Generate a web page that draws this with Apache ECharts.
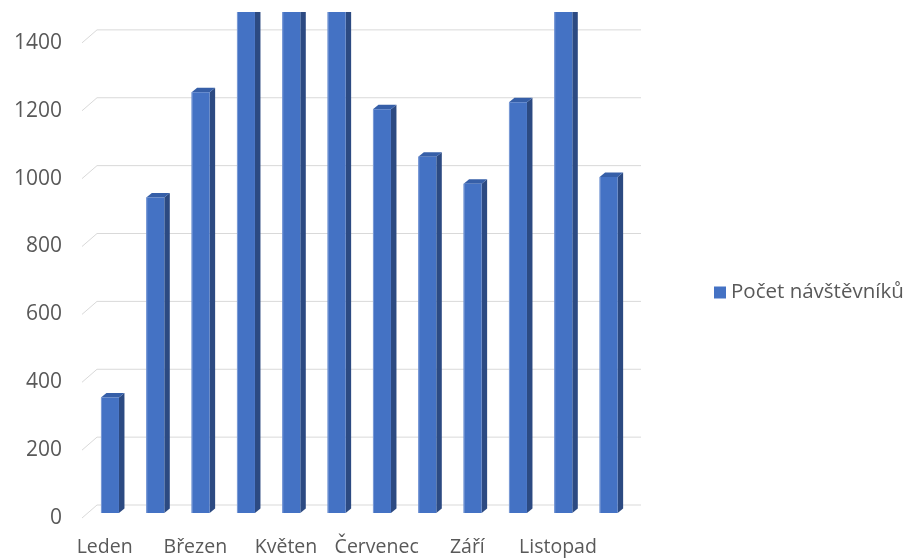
<!DOCTYPE html>
<html>
<head>
<meta charset="utf-8">
<script src="https://cdn.jsdelivr.net/npm/echarts@6/dist/echarts.min.js"></script>
<style>
  html, body { margin: 0; padding: 0; background: #ffffff; }
  #chart { width: 909px; height: 558px; }
</style>
</head>
<body>
<div id="chart"></div>
<script>
// Monthly visitor counts
const months = ['Leden', 'Únor', 'Březen', 'Duben', 'Květen', 'Červen',
                'Červenec', 'Srpen', 'Září', 'Říjen', 'Listopad', 'Prosinec'];
const visitors = [340, 930, 1240, 1620, 1680, 1590, 1190, 1050, 970, 1210, 1560, 990];
const yTicks = [0, 200, 400, 600, 800, 1000, 1200, 1400];
const seriesName = 'Počet návštěvníků';

const FONT = '"Open Sans", "Noto Sans", sans-serif';
const TEXT = '#595959';

// 3D depth of the floor (front edge -> back wall) and of a single column
const FLOOR_DX = 15, FLOOR_DY = -13;
const BAR_SHIFT_X = 5.3, BAR_SHIFT_Y = -5;
const BAR_W = 18, BAR_DX = 5.5, BAR_DY = -4.5;

const chart = echarts.init(document.getElementById('chart'), null, { renderer: 'canvas' });

// Gridline: short slanted floor segment plus the horizontal line on the back wall
function renderGridLine(params, api) {
  const cs = params.coordSys;
  const y = api.coord([0, api.value(1)])[1];
  return {
    type: 'polyline',
    silent: true,
    shape: {
      points: [
        [cs.x, y],
        [cs.x + FLOOR_DX, y + FLOOR_DY],
        [cs.x + cs.width + FLOOR_DX, y + FLOOR_DY]
      ]
    },
    style: { stroke: '#d9d9d9', lineWidth: 1, fill: null }
  };
}

// Column with front face, dark side face and top face
function renderColumn(params, api) {
  const i = api.value(0);
  const v = api.value(1);
  const base = api.coord([i, 0]);
  const top = api.coord([i, v]);
  const xl = base[0] + BAR_SHIFT_X - BAR_W / 2;
  const xr = xl + BAR_W;
  const yb = base[1] + BAR_SHIFT_Y;
  const yt = top[1] + BAR_SHIFT_Y;
  return {
    type: 'group',
    children: [
      {
        type: 'polygon',
        shape: { points: [[xr, yb], [xr + BAR_DX, yb + BAR_DY], [xr + BAR_DX, yt + BAR_DY], [xr, yt]] },
        style: { fill: '#2c4a82' }
      },
      {
        type: 'polygon',
        shape: { points: [[xl, yt], [xl + BAR_DX, yt + BAR_DY], [xr + BAR_DX, yt + BAR_DY], [xr, yt]] },
        style: { fill: '#365fa8' }
      },
      {
        type: 'rect',
        shape: { x: xl, y: yt, width: BAR_W, height: yb - yt },
        style: { fill: '#4472c4' }
      },
      {
        type: 'line',
        shape: { x1: xl + 0.5, y1: yt, x2: xl + 0.5, y2: yb },
        style: { stroke: '#7c9bd6', lineWidth: 1 }
      }
    ]
  };
}

chart.setOption({
  backgroundColor: '#ffffff',
  animation: false,
  textStyle: { fontFamily: FONT },
  grid: { left: 82, right: 283, top: 12, bottom: 40, containLabel: false },
  legend: {
    data: [{ name: seriesName, icon: 'rect' }],
    orient: 'vertical',
    left: 709,
    top: 277,
    itemWidth: 12,
    itemHeight: 12,
    itemGap: 5,
    textStyle: { color: TEXT, fontSize: 20.5, fontFamily: FONT }
  },
  xAxis: {
    type: 'category',
    data: months,
    boundaryGap: true,
    axisLine: { show: false },
    axisTick: { show: false },
    splitLine: { show: false },
    axisLabel: {
      interval: 1,
      margin: 19,
      color: TEXT,
      fontSize: 19.5,
      fontFamily: FONT
    }
  },
  yAxis: {
    type: 'value',
    min: 0,
    max: 1491,
    interval: 200,
    axisLine: { show: false },
    axisTick: { show: false },
    splitLine: { show: false },
    axisLabel: {
      customValues: yTicks,
      formatter: v => String(v),
      margin: 20,
      color: TEXT,
      fontSize: 21,
      fontFamily: FONT
    }
  },
  series: [
    {
      type: 'custom',
      silent: true,
      clip: false,
      z: 1,
      renderItem: renderGridLine,
      data: yTicks.map(t => [0, t])
    },
    {
      name: seriesName,
      type: 'custom',
      clip: true,
      z: 2,
      itemStyle: { color: '#4472c4' },
      renderItem: renderColumn,
      data: months.map((m, i) => [i, visitors[i]])
    }
  ]
});
</script>
</body>
</html>
